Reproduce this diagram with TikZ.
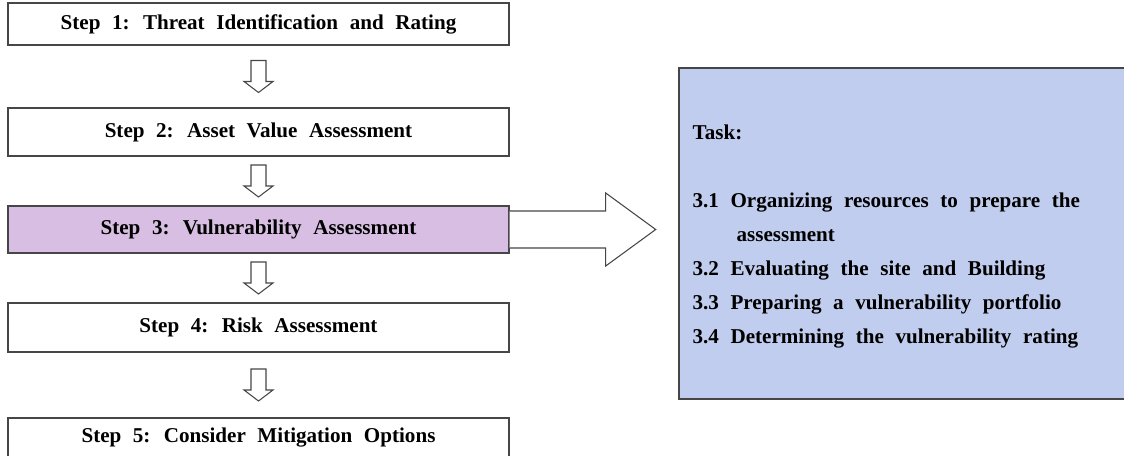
\documentclass[tikz,border=0pt]{standalone}
\usepackage{fontspec}
\setmainfont{Liberation Serif}[WordSpace=2.2]
\usetikzlibrary{calc}
\definecolor{stepviolet}{RGB}{216,190,226}
\definecolor{taskblue}{RGB}{193,205,238}
\definecolor{edgegray}{RGB}{70,70,70}

\begin{document}
\begin{tikzpicture}[
        stepbox/.style={draw=edgegray, line width=0.8pt, rectangle, minimum width=10.02cm, inner sep=0pt, font=\bfseries\fontsize{12}{14}\selectfont},
        taskbox/.style={draw=edgegray, line width=0.8pt, rectangle, fill=taskblue, inner sep=0pt},
        hollowdown/.pic={\draw[edgegray, line width=0.6pt, fill=white] (-0.15,0.32) -- (-0.15,-0.10) -- (-0.29,-0.10) -- (0,-0.32) -- (0.29,-0.10) -- (0.15,-0.10) -- (0.15,0.32) -- cycle;}
    ]
        \useasboundingbox (0,0) rectangle (22.48,9.12);

        % Steps
        \node[stepbox, minimum height=0.84cm] (s1) at (5.17, 8.64) {Step 1: Threat Identification and Rating};
        \node[stepbox, minimum height=0.96cm] (s2) at (5.17, 6.48) {Step 2: Asset Value Assessment};
        \node[stepbox, minimum height=0.94cm, fill=stepviolet] (s3) at (5.17, 4.53) {Step 3: Vulnerability Assessment};
        \node[stepbox, minimum height=0.98cm] (s4) at (5.17, 2.57) {Step 4: Risk Assessment};
        \node[stepbox, minimum height=0.80cm] (s5) at (5.17, 0.36) {Step 5: Consider Mitigation Options};
        \pic at ($(s1.south)!0.5!(s2.north)$) {hollowdown};
        \pic at ($(s2.south)!0.5!(s3.north)$) {hollowdown};
        \pic at ($(s3.south)!0.5!(s4.north)$) {hollowdown};
        \pic at ($(s4.south)!0.5!(s5.north)$) {hollowdown};

        % Tasks of step 3
        \node[taskbox, minimum width=9.02cm, minimum height=6.62cm] (task) at (18.09, 4.45) {};
        \node[anchor=north west, inner sep=0pt, align=left, font=\bfseries\fontsize{12}{19.3}\selectfont] (tasklist) at ($(task.north west)+(0.28,-1.15)$) {Task:\\[19.3pt]
            3.1 Organizing resources to prepare the\\
            \hspace*{25pt}assessment\\
            3.2 Evaluating the site and Building\\
            3.3 Preparing a vulnerability portfolio\\
            3.4 Determining the vulnerability rating};
        \draw[edgegray, line width=0.6pt, fill=white] ($(s3.east)+(0,0.37)$) -- ++(1.92,0) -- ++(0,0.36) -- ++(1.0,-0.73) -- ++(-1.0,-0.73) -- ++(0,0.36) -- ++(-1.92,0);
    \end{tikzpicture}
\end{document}
